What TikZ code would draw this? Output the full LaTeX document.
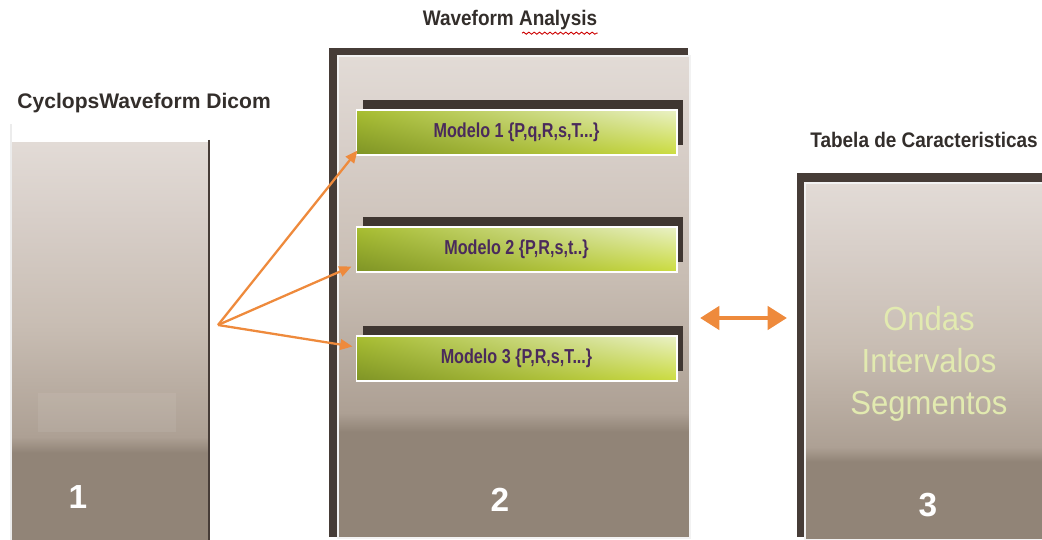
\documentclass[tikz,border=0pt]{standalone}
\usepackage{fontspec}
\setmainfont{Liberation Sans}
\newfontfamily\titlefont[FakeStretch=0.9]{Liberation Sans}
\newfontfamily\widefont{Liberation Sans}
\newfontfamily\modelfont[FakeStretch=0.8]{Liberation Sans}
\newfontfamily\featfont[FakeStretch=0.93]{Liberation Sans}
\usepackage{tikz}
\usetikzlibrary{arrows.meta,calc,shadows,shadings,decorations.pathmorphing}

\definecolor{ptop}{HTML}{E2DBD6}
\definecolor{phigh}{HTML}{D8CFC9}
\definecolor{pmid}{HTML}{C8BDB3}
\definecolor{plow}{HTML}{ADA094}
\definecolor{pbot}{HTML}{918477}
\definecolor{frame}{HTML}{463C37}
\definecolor{inkc}{HTML}{332E2B}
\definecolor{modelink}{HTML}{4A2A5C}
\definecolor{featc}{HTML}{E2EAB0}
\definecolor{arrowc}{HTML}{EE8A3C}
\definecolor{gdark}{HTML}{7E9326}
\definecolor{gmid}{HTML}{A8BE30}
\definecolor{gbright}{HTML}{CBDC3E}
\definecolor{gpale}{HTML}{EAF1C6}

\pgfdeclareverticalshading{panelshade}{100bp}{%
  color(0bp)=(pbot); color(36bp)=(pbot); color(38bp)=(plow);
  color(52bp)=(pmid); color(66bp)=(phigh); color(75bp)=(ptop); color(100bp)=(ptop)}

\begin{document}
\begin{tikzpicture}[
  x=0.02cm,y=-0.02cm,
  title/.style={font=\titlefont\bfseries\fontsize{12}{14}\selectfont,text=inkc,inner sep=0pt},
  model/.style={rectangle,draw=white,line width=0.6pt,minimum width=6.42cm,minimum height=0.9cm,inner sep=0pt,
    lower left=gdark,upper left=gmid,lower right=gbright,upper right=gpale,
    font=\modelfont\bfseries\fontsize{11.5}{13}\selectfont,text=modelink,
    general shadow={fill=frame!90!black,shadow xshift=0.13cm,shadow yshift=0.2cm}},
  num/.style={font=\bfseries\fontsize{19}{20}\selectfont,text=white,inner sep=0pt},
  link/.style={-{Triangle[length=7pt,width=6pt]},arrowc,line width=1.3pt},
  dbl/.style={{Triangle[length=11pt,width=13pt]}-{Triangle[length=11pt,width=13pt]},arrowc,line width=2.8pt}
]
\useasboundingbox (0,0) rectangle (1042,540);

% panel 1
\shade[shading=panelshade] (12,143) rectangle (208,540);
\fill[white,opacity=0.07] (38,393) rectangle (176,432);
\draw[frame,line width=1.6pt] (209,140) -- (209,540);
\draw[white!85!gray,line width=0.6pt] (11,124) -- (11,540);

% panel 2
\fill[frame] (329,48) rectangle (688,537);
\shade[shading=panelshade,draw=white!90!gray,line width=0.6pt] (338,56) rectangle (690,538);

% panel 3
\fill[frame] (797,173) rectangle (1042,537);
\shade[shading=panelshade,draw=white!90!gray,line width=0.6pt] (805,183) rectangle (1045,540);

% titles
\node[title,font=\widefont\bfseries\fontsize{12}{14}\selectfont,anchor=west] (tdicom) at (17,103) {CyclopsWaveform Dicom};
\node[title] (tanalysis) at (510,20) {Waveform Analysis};
\draw[red!80!black,line width=0.5pt,decorate,decoration={snake,amplitude=0.6pt,segment length=3pt}]
  ($(tanalysis.south)+(12,3)$) -- ($(tanalysis.south east)+(0,3)$);
\node[title,anchor=west] (ttabela) at (810,140) {Tabela de Caracteristicas};

% models
\node[model] (m1) at (516.5,132.5) {Modelo 1 \{P,q,R,s,T...\}};
\node[model] (m2) at (516.5,249.5) {Modelo 2 \{P,R,s,t..\}};
\node[model] (m3) at (516.5,358.5) {Modelo 3 \{P,R,s,T...\}};

% features
\node[font=\featfont\fontsize{19}{23.8}\selectfont,text=featc,align=center] (feat) at (929,364)
  {Ondas\\Intervalos\\Segmentos};

% numbers
\node[num] (n1) at (78,497) {1};
\node[num] (n2) at (500,500) {2};
\node[num] (n3) at (928,505) {3};

% arrows
\coordinate (hub) at (218,325);
\draw[link] (hub) -- ($(m1.south west)+(2,-5)$);
\draw[link] (hub) -- ($(m2.south west)+(-4,-6)$);
\draw[link] (hub) -- ($(m3.west)+(-3,-12)$);
\coordinate (dl) at (700,318);
\coordinate (dr) at (787,318);
\draw[dbl] (dl) -- (dr);
\end{tikzpicture}
\end{document}
